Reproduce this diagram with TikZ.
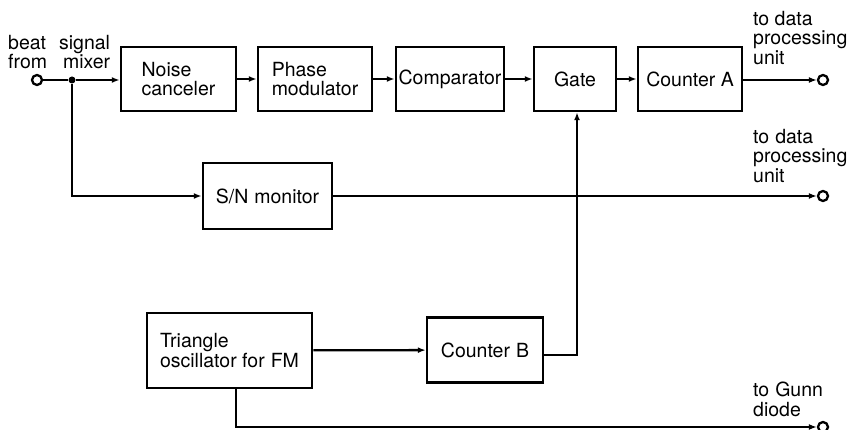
\documentclass[tikz,border=0pt]{standalone}
\usepackage{fontspec}
\setmainfont{TeX Gyre Heros}
\usetikzlibrary{arrows.meta}
\begin{document}
\begin{tikzpicture}[x=1pt,y=-1pt,
  txt/.style={font=\fontsize{19.5}{19.5}\selectfont, inner sep=0pt, align=left},
  box/.style={txt, draw, line width=2.5pt, align=left},
  wire/.style={line width=2.3pt},
  arr/.style={wire, -{Latex[length=8pt,width=6pt]}},
  term/.style={circle, draw, line width=2.3pt, fill=white, minimum size=10pt, inner sep=0pt},
  dot/.style={circle, fill, minimum size=7pt, inner sep=0pt}]
\useasboundingbox (0,0) rectangle (851,430);
% boxes
\node[box, minimum width=115pt, minimum height=64pt] (nc) at (178.5,79) {Noise\\canceler};
\node[box, minimum width=114pt, minimum height=64pt] (pm) at (315,79) {Phase\\modulator};
\node[box, minimum width=108pt, minimum height=64pt] (cmp) at (450,79) {Comparator};
\node[box, minimum width=82pt, minimum height=64pt] (gate) at (575,79) {Gate};
\node[box, minimum width=104pt, minimum height=64pt] (ca) at (690,79) {Counter A};
\node[box, minimum width=129pt, minimum height=66pt] (sn) at (267.5,196) {S/N\hspace{6pt}monitor};
\node[box, minimum width=165pt, minimum height=75pt] (tri) at (229.5,350.5) {Triangle\\oscillator for\hspace{6pt}FM};
\node[box, minimum width=116pt, minimum height=65pt] (cb) at (485,350) {Counter\hspace{6pt}B};
% terminals
\node[term] (in) at (37,80) {};
\node[dot] (j) at (72,80) {};
\node[term] (o1) at (823,80) {};
\node[term] (o2) at (823,196) {};
\node[term] (o3) at (823,427) {};
% labels
\node[txt, anchor=west] (lin) at (8,52) {beat\hspace{13pt}signal\\from\hspace{16pt}mixer};
\node[txt, anchor=north west] (l1) at (753,11) {to data\\processing\\unit};
\node[txt, anchor=north west] (l2) at (753,129) {to\hspace{6pt}data\\processing\\unit};
\node[txt, anchor=north west] (l3) at (753,382) {to\hspace{6pt}Gunn\\diode};
% connectors
\draw[wire] (in) -- (j);
\draw[arr] (j) -- (nc.west |- j);
\draw[arr] (nc) -- (pm);
\draw[arr] (pm) -- (cmp);
\draw[arr] (cmp) -- (gate);
\draw[arr] (gate) -- (ca);
\draw[arr] (ca.east |- o1) -- (o1);
\draw[arr] (j) |- (sn.west);
\draw[arr] (sn.east) -- (o2);
\draw[arr] (tri) -- (cb);
\coordinate (cbx) at ([yshift=-5pt]cb.east);
\coordinate (gx) at ([xshift=2pt]gate.south);
\draw[arr] (cbx) -| (gx);
\coordinate (tx) at ([xshift=6.5pt]tri.south);
\draw[arr] (tx) |- (o3);
\end{tikzpicture}
\end{document}
